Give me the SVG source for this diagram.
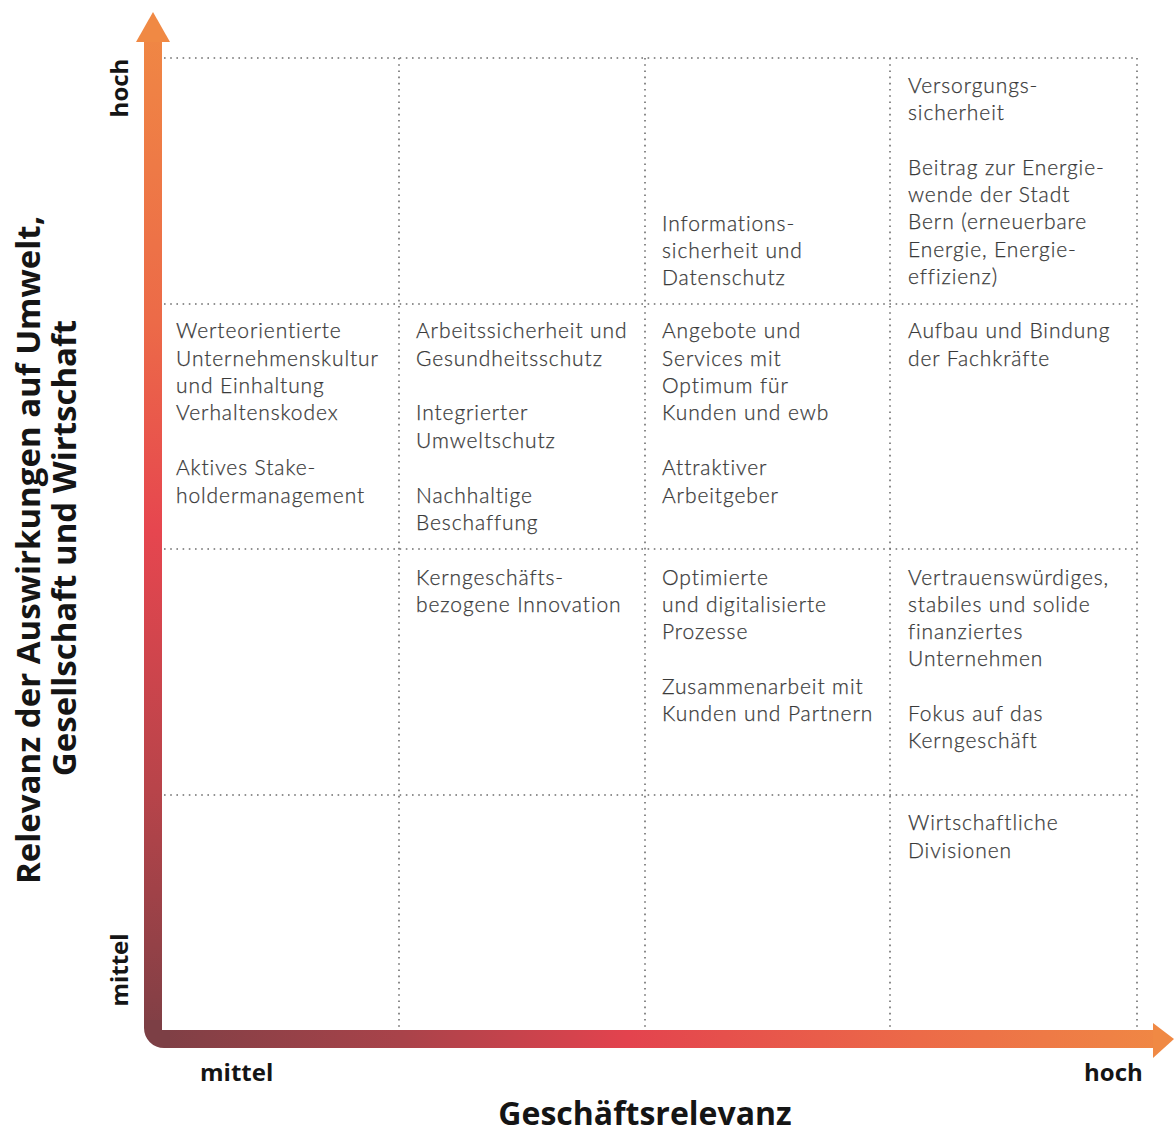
<svg xmlns="http://www.w3.org/2000/svg" width="1174" height="1133" viewBox="0 0 1174 1133">
<defs>
<linearGradient id="gv" gradientUnits="userSpaceOnUse" x1="0" y1="12" x2="0" y2="1048">
<stop offset="0" stop-color="#f08944"/>
<stop offset="0.3" stop-color="#ec6a48"/>
<stop offset="0.5" stop-color="#e6464f"/>
<stop offset="0.75" stop-color="#b8444a"/>
<stop offset="1" stop-color="#7c3f45"/>
</linearGradient>
<linearGradient id="gh" gradientUnits="userSpaceOnUse" x1="144" y1="0" x2="1174" y2="0">
<stop offset="0" stop-color="#7c3f45"/>
<stop offset="0.25" stop-color="#a9434a"/>
<stop offset="0.47" stop-color="#e3434e"/>
<stop offset="0.75" stop-color="#ec6a48"/>
<stop offset="1" stop-color="#f08944"/>
</linearGradient>
<style>
.grid{stroke:#6e6e6e;stroke-width:1.6;stroke-dasharray:1.6 4.6;fill:none;stroke-linecap:butt}
.cell{font-family:Lato,"Open Sans",sans-serif;font-weight:300;font-size:21px;letter-spacing:0.9px;fill:#3a3a3a;stroke:#3a3a3a;stroke-width:0.25}
.ax{font-family:"Open Sans","Liberation Sans",sans-serif;font-weight:700;fill:#151515}
</style>
</defs>
<rect width="1174" height="1133" fill="#ffffff"/>
<g id="grid">
<line class="grid" x1="164" y1="58" x2="1137" y2="58"/>
<line class="grid" x1="164" y1="304" x2="1137" y2="304"/>
<line class="grid" x1="164" y1="549" x2="1137" y2="549"/>
<line class="grid" x1="164" y1="795" x2="1137" y2="795"/>
<line class="grid" x1="399" y1="58" x2="399" y2="1028"/>
<line class="grid" x1="645" y1="58" x2="645" y2="1028"/>
<line class="grid" x1="890" y1="58" x2="890" y2="1028"/>
<line class="grid" x1="1137" y1="58" x2="1137" y2="1028"/>
</g>
<g id="axes">
<rect x="144" y="40" width="18" height="982" fill="url(#gv)"/>
<polygon points="153,12 170,42 136,42" fill="#f08944"/>
<path d="M144 1020 L162 1020 L162 1030 L172 1030 L172 1048 L164 1048 A20 20 0 0 1 144 1028 Z" fill="#7c3f45"/>
<rect x="170" y="1030" width="986" height="18" fill="url(#gh)"/>
<polygon points="1153,1023 1174,1039 1153,1058" fill="#f08944"/>
</g>
<g id="axis-labels">
<text class="ax" font-size="33" text-anchor="middle" transform="translate(40,550) rotate(-90)">Relevanz der Auswirkungen auf Umwelt,</text>
<text class="ax" font-size="33" text-anchor="middle" transform="translate(76,548) rotate(-90)">Gesellschaft und Wirtschaft</text>
<text class="ax" font-size="24" text-anchor="middle" transform="translate(128,88) rotate(-90)">hoch</text>
<text class="ax" font-size="24" text-anchor="middle" transform="translate(128,970) rotate(-90)">mittel</text>
<text class="ax" font-size="24" x="200" y="1081">mittel</text>
<text class="ax" font-size="24" x="1084" y="1081">hoch</text>
<text class="ax" font-size="32" text-anchor="middle" x="645" y="1125">Geschäftsrelevanz</text>
</g>
<g id="r1c3"><text class="cell"><tspan x="662" y="231">Informations-</tspan><tspan x="662" y="258">sicherheit und</tspan><tspan x="662" y="285">Datenschutz</tspan></text></g>
<g id="r1c4"><text class="cell"><tspan x="908" y="93">Versorgungs-</tspan><tspan x="908" y="120">sicherheit</tspan><tspan x="908" y="175">Beitrag zur Energie-</tspan><tspan x="908" y="202">wende der Stadt</tspan><tspan x="908" y="229">Bern (erneuerbare</tspan><tspan x="908" y="257">Energie, Energie-</tspan><tspan x="908" y="284">effizienz)</tspan></text></g>
<g id="r2c1"><text class="cell"><tspan x="176" y="338">Werteorientierte</tspan><tspan x="176" y="366">Unternehmenskultur</tspan><tspan x="176" y="393">und Einhaltung</tspan><tspan x="176" y="420">Verhaltenskodex</tspan><tspan x="176" y="475">Aktives Stake-</tspan><tspan x="176" y="503">holdermanagement</tspan></text></g>
<g id="r2c2"><text class="cell"><tspan x="416" y="338">Arbeitssicherheit und</tspan><tspan x="416" y="366">Gesundheitsschutz</tspan><tspan x="416" y="420">Integrierter</tspan><tspan x="416" y="448">Umweltschutz</tspan><tspan x="416" y="503">Nachhaltige</tspan><tspan x="416" y="530">Beschaffung</tspan></text></g>
<g id="r2c3"><text class="cell"><tspan x="662" y="338">Angebote und</tspan><tspan x="662" y="366">Services mit</tspan><tspan x="662" y="393">Optimum für</tspan><tspan x="662" y="420">Kunden und ewb</tspan><tspan x="662" y="475">Attraktiver</tspan><tspan x="662" y="503">Arbeitgeber</tspan></text></g>
<g id="r2c4"><text class="cell"><tspan x="908" y="338">Aufbau und Bindung</tspan><tspan x="908" y="366">der Fachkräfte</tspan></text></g>
<g id="r3c2"><text class="cell"><tspan x="416" y="585">Kerngeschäfts-</tspan><tspan x="416" y="612">bezogene Innovation</tspan></text></g>
<g id="r3c3"><text class="cell"><tspan x="662" y="585">Optimierte</tspan><tspan x="662" y="612">und digitalisierte</tspan><tspan x="662" y="639">Prozesse</tspan><tspan x="662" y="694">Zusammenarbeit mit</tspan><tspan x="662" y="721">Kunden und Partnern</tspan></text></g>
<g id="r3c4"><text class="cell"><tspan x="908" y="585">Vertrauenswürdiges,</tspan><tspan x="908" y="612">stabiles und solide</tspan><tspan x="908" y="639">finanziertes</tspan><tspan x="908" y="666">Unternehmen</tspan><tspan x="908" y="721">Fokus auf das</tspan><tspan x="908" y="748">Kerngeschäft</tspan></text></g>
<g id="r4c4"><text class="cell"><tspan x="908" y="830">Wirtschaftliche</tspan><tspan x="908" y="858">Divisionen</tspan></text></g>
</svg>
